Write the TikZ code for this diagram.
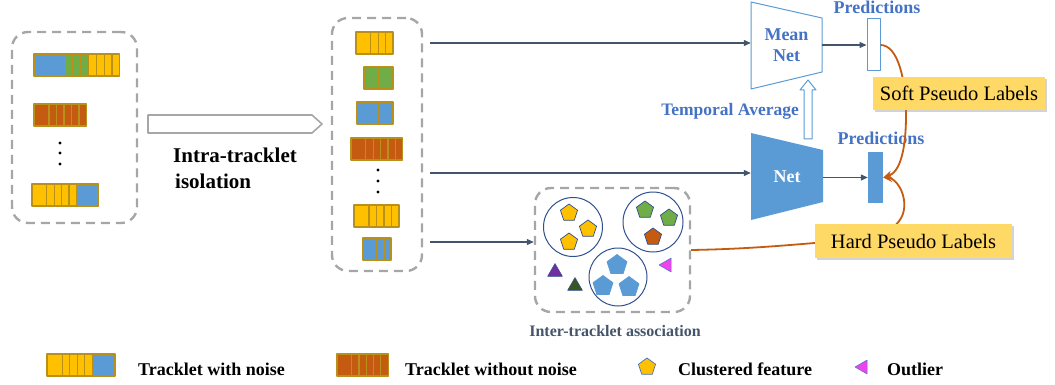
\documentclass[tikz,border=0pt]{standalone}
\usepackage{fontspec}
\setmainfont{Liberation Serif}
\usetikzlibrary{arrows.meta,shapes.geometric,shadows}
\definecolor{cy}{HTML}{FFC000}
\definecolor{cb}{HTML}{5B9BD5}
\definecolor{cg}{HTML}{70AD47}
\definecolor{cr}{HTML}{C55A11}
\definecolor{cbd}{HTML}{B8901A}
\definecolor{dgray}{HTML}{A6A6A6}
\definecolor{slate}{HTML}{44546A}
\definecolor{tblue}{HTML}{4472C4}
\definecolor{navy}{HTML}{2F4F8F}
\definecolor{lyel}{HTML}{FFD966}
\definecolor{purp}{HTML}{7030A0}
\definecolor{dgreen}{HTML}{375623}
\definecolor{mag}{HTML}{EE44EE}

% #1 x, #2 y, #3 narrow cell width, #4 colour of wide first cell, #5 colours of the narrow cells
\newcommand\trk[5]{%
 \begin{scope}[shift={(#1,#2)}]
   \pgfmathsetmacro\trkw{2*#3}
   \fill[#4] (0,0) rectangle (\trkw,22);
   \foreach \cc [count=\ii] in {#5} {
     \pgfmathsetmacro\xa{(\ii+1)*#3}
     \pgfmathsetmacro\xb{(\ii+2)*#3}
     \fill[\cc] (\xa,0) rectangle (\xb,22);
   }
   \draw[cbd, line width=1.2] (0,0) rectangle (\trkw,22);
   \foreach \cc [count=\ii] in {#5} {
     \pgfmathsetmacro\xa{(\ii+1)*#3}
     \pgfmathsetmacro\xb{(\ii+2)*#3}
     \draw[cbd, line width=1.2] (\xa,0) rectangle (\xb,22);
   }
 \end{scope}
}

\begin{document}
\begin{tikzpicture}[x=1pt,y=-1pt,line join=round,
 dbox/.style={draw=dgray, line width=2.4, dash pattern=on 9 off 6, rounded corners=16, inner sep=0},
 arr/.style={draw=slate, line width=1.1, -{Triangle[length=7,width=6]}},
 oarr/.style={draw=cr, line width=1.8, -{Stealth[length=9,width=8]}},
 bt/.style={font=\fontsize{18}{21}\selectfont\bfseries, inner sep=0},
 ybox/.style={fill=lyel, inner sep=0, font=\fontsize{20.5}{24}\selectfont,
   drop shadow={shadow xshift=2pt, shadow yshift=-2pt, opacity=0.35}},
 pent/.style={regular polygon, regular polygon sides=5, minimum size=18, inner sep=0, draw=navy, line width=0.7},
 tri/.style={regular polygon, regular polygon sides=3, minimum size=17, inner sep=0, draw=navy, line width=0.5},
 clus/.style={circle, draw=navy, line width=1, inner sep=0}
]
\useasboundingbox (0,0) rectangle (1055,385);

% ---------- left box ----------
\node[dbox, minimum width=125, minimum height=191] (leftbox) at (74.5,127.5) {};
\trk{34}{54}{7.8}{cb}{cb,cb,cg,cg,cg,cy,cy,cy,cy}
\trk{34}{104}{7.5}{cr}{cr,cr,cr,cr,cr}
\foreach \yy in {143,153,164} \fill (60,\yy) circle (1.6);
\trk{32}{184}{7.4}{cy}{cy,cy,cy,cy,cb,cb,cb}

% ---------- isolation arrow ----------
\draw[dgray, line width=1.6, fill=white] (148,115) -- (312,115) -- (322,124) -- (312,133) -- (148,133) -- cycle;
\node[font=\fontsize{21}{24}\selectfont\bfseries, inner sep=0, anchor=base west] (iso1) at (173,162) {Intra-tracklet};
\node[font=\fontsize{21}{24}\selectfont\bfseries, inner sep=0, anchor=base west] (iso2) at (175,188) {isolation};

% ---------- middle box ----------
\node[dbox, minimum width=90, minimum height=253] (midbox) at (377,144.5) {};
\trk{356}{32}{7.4}{cy}{cy,cy,cy}
\trk{364}{67}{7.25}{cg}{cg,cg}
\trk{357}{102}{7.2}{cb}{cb,cb,cb}
\trk{351}{138}{7.4}{cr}{cr,cr,cr,cr,cr}
\foreach \yy in {170,181,192} \fill (378,\yy) circle (1.6);
\trk{354}{205}{7.5}{cy}{cy,cy,cy,cy}
\trk{363}{238}{7}{cb}{cb,cb}

% ---------- nets ----------
\draw[cb, line width=1, fill=white] (751,2) -- (822,18) -- (822,72) -- (751,89) -- cycle;
\node[bt, text=tblue, align=center, minimum width=71, minimum height=87] (meannet) at (786.5,45.5) {Mean\\Net};
\fill[cb] (751,133) -- (823,150) -- (823,202) -- (751,220) -- cycle;
\node[bt, text=white, minimum width=72, minimum height=87] (net) at (787,176.5) {Net};

\draw[cb, line width=1, fill=white] (804,139) -- (804,90) -- (800,90) -- (808,80) -- (816,90) -- (812,90) -- (812,139) -- cycle;
\node[font=\fontsize{17.5}{21}\selectfont\bfseries, inner sep=0, text=tblue, anchor=base east] (temp) at (799,116) {Temporal Average};

% ---------- predictions ----------
\node[draw=cb, fill=white, line width=1, minimum width=13, minimum height=52, inner sep=0] (pred1) at (873.5,45) {};
\node[fill=cb, minimum width=15, minimum height=51, inner sep=0] (pred2) at (875.5,177.5) {};
\node[bt, text=tblue, anchor=base] (pt1) at (877,14) {Predictions};
\node[bt, text=tblue, anchor=base] (pt2) at (881,145) {Predictions};

% ---------- association box ----------
\node[dbox, minimum width=155, minimum height=124] (assoc) at (612.5,250) {};
\node[clus, minimum size=59] (c1) at (573,227) {};
\node[clus, minimum size=60] (c2) at (653,222) {};
\node[clus, minimum size=58] (c3) at (618,277) {};
\node[pent, fill=cy] (y1) at (569,213) {};
\node[pent, fill=cy] (y2) at (588,229) {};
\node[pent, fill=cy] (y3) at (569,242) {};
\node[pent, fill=cg] (g1) at (645,210) {};
\node[pent, fill=cg] (g2) at (669,218) {};
\node[pent, fill=cr] (r1) at (653,237) {};
\node[pent, fill=cb, draw=cb, minimum size=21] (b1) at (617,265) {};
\node[pent, fill=cb, draw=cb, minimum size=21] (b2) at (603,286) {};
\node[pent, fill=cb, draw=cb, minimum size=21] (b3) at (629,287) {};
\node[tri, fill=purp] (t1) at (555,272) {};
\node[tri, fill=dgreen] (t2) at (575,286) {};
\node[tri, fill=mag, draw=tblue, minimum size=16, regular polygon rotate=90] (t3) at (667,265) {};
\node[font=\fontsize{16}{19}\selectfont\bfseries, text=slate, inner sep=0, anchor=base] (assoclbl) at (615,336) {Inter-tracklet association};

% ---------- connectors ----------
\coordinate (s1) at (430,43);
\coordinate (s2) at (430,173);
\coordinate (s3) at (430,242);
\draw[arr] (s1) -- (s1 -| meannet.west);
\draw[arr] (s2) -- (s2 -| net.west);
\draw[arr] (s3) -- (s3 -| assoc.west);
\draw[arr] (meannet.east |- pred1) -- (pred1.west);
\draw[arr] (net.east |- pred2) -- (pred2.west);

\draw[oarr] (pred1.east) .. controls (898,45) and (906,80) .. (906,115)
   .. controls (906,150) and (900,172) .. (pred2.east);
\draw[oarr] (assoc.east) .. controls (750,249) and (790,245) .. (850,240)
   .. controls (900,236) and (906,215) .. (904,200)
   .. controls (902,186) and (893,178) .. (pred2.east);

\node[ybox, minimum width=172, minimum height=33] (soft) at (959,93.5) {Soft Pseudo Labels};
\node[ybox, minimum width=197, minimum height=34] (hard) at (913.5,241) {Hard Pseudo Labels};

% ---------- legend ----------
\trk{47}{354}{7.55}{cy}{cy,cy,cy,cy,cb,cb,cb}
\trk{337}{354}{7.3}{cr}{cr,cr,cr,cr,cr}
\node[bt, anchor=base west] (l1) at (138,375) {Tracklet with noise};
\node[bt, anchor=base west] (l2) at (405,375) {Tracklet without noise};
\node[pent, fill=cy, draw=tblue] (lp) at (647,367) {};
\node[bt, anchor=base west] (l3) at (678,375) {Clustered feature};
\node[tri, fill=mag, draw=tblue, minimum size=16, regular polygon rotate=90] (lt) at (863,367) {};
\node[bt, anchor=base west] (l4) at (887,375) {Outlier};
\end{tikzpicture}
\end{document}
